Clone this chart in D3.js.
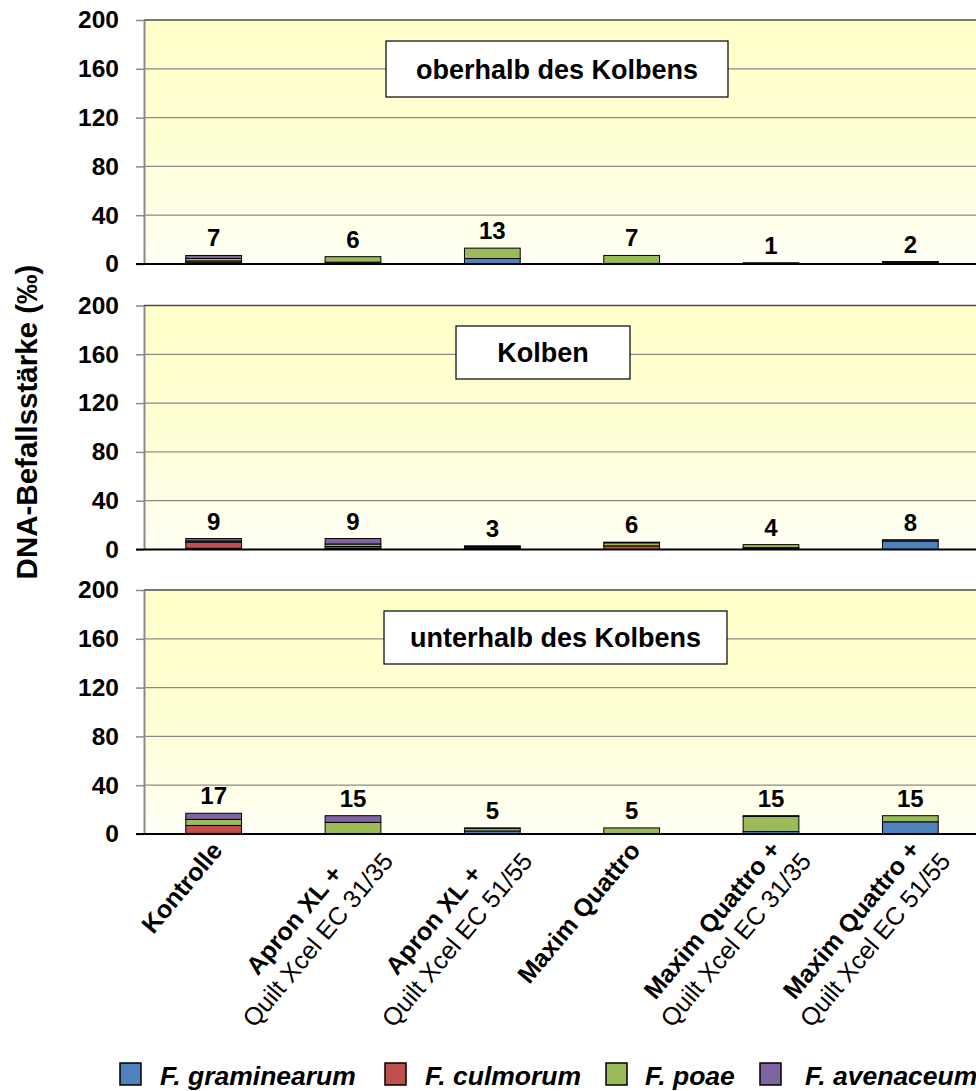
<!DOCTYPE html>
<html>
<head>
<meta charset="utf-8">
<script src="https://cdn.jsdelivr.net/npm/d3@7"></script>
<style>
  html, body { margin: 0; padding: 0; background: #ffffff; }
  svg { display: block; font-family: "Liberation Sans", Arial, sans-serif; }
</style>
</head>
<body>
<svg id="chart" width="976" height="1091"></svg>
<script>
// ---------------- DATA ----------------
const categories = ["Kontrolle", "Apron XL + 31/35", "Apron XL + 51/55", "Maxim Quattro", "Maxim Quattro + 31/35", "Maxim Quattro + 51/55"];
const labelLine1 = ["Kontrolle", "Apron XL +", "Apron XL +", "Maxim Quattro", "Maxim Quattro +", "Maxim Quattro +"];
const labelLine2 = ["", "Quilt Xcel EC 31/35", "Quilt Xcel EC 51/55", "", "Quilt Xcel EC 31/35", "Quilt Xcel EC 51/55"];
const panelTitles = ["oberhalb des Kolbens", "Kolben", "unterhalb des Kolbens"];
const speciesNames = ["F. graminearum", "F. culmorum", "F. poae", "F. avenaceum"];
const speciesColors = ["#4F81BD", "#C0504D", "#9BBB59", "#8064A2"];
const yTicks = [0, 40, 80, 120, 160, 200];

// oberhalb des Kolbens
const graminearumOber = [1, 0.5, 4.5, 0, 0.3, 1];
const culmorumOber    = [1.5, 1, 0, 0.5, 0.2, 0.5];
const poaeOber        = [2, 4.5, 8.5, 6.5, 0.5, 0.5];
const avenaceumOber   = [2.5, 0, 0, 0, 0, 0];
const totalsOber      = [7, 6, 13, 7, 1, 2];

// Kolben
const graminearumKolben = [1, 1, 1, 0, 0.5, 7];
const culmorumKolben    = [5, 1.5, 1, 3, 1, 0];
const poaeKolben        = [1, 2, 0.5, 2.5, 2.5, 0];
const avenaceumKolben   = [2, 4.5, 0.5, 0.5, 0, 1];
const totalsKolben      = [9, 9, 3, 6, 4, 8];

// unterhalb des Kolbens
const graminearumUnter = [0.5, 0, 2.5, 0, 2, 10];
const culmorumUnter    = [6.5, 0, 0, 0, 0, 0];
const poaeUnter        = [5, 9.5, 2, 5, 12.5, 5];
const avenaceumUnter   = [5, 5.5, 0.5, 0, 0.5, 0];
const totalsUnter      = [17, 15, 5, 5, 15, 15];

const panelSeries = [
  [graminearumOber, culmorumOber, poaeOber, avenaceumOber],
  [graminearumKolben, culmorumKolben, poaeKolben, avenaceumKolben],
  [graminearumUnter, culmorumUnter, poaeUnter, avenaceumUnter]
];
const panelTotals = [totalsOber, totalsKolben, totalsUnter];

// ---------------- LAYOUT ----------------
const svg = d3.select("#chart");
const plotLeft = 144, plotRight = 980;
const panelTop = [20, 305.5, 590];
const panelH = 244;
const titleBoxes = [
  {x: 386, y: 41, w: 342, h: 56},
  {x: 456, y: 326, w: 174, h: 53},
  {x: 384, y: 611, w: 343, h: 53}
];

const x = d3.scaleBand().domain(categories).range([plotLeft, plotRight]).paddingInner(0.6).paddingOuter(0.3);

const defs = svg.append("defs");
const grad = defs.append("linearGradient").attr("id", "bg").attr("x1", 0).attr("y1", 0).attr("x2", 0).attr("y2", 1);
grad.append("stop").attr("offset", "0%").attr("stop-color", "#FFFFCA");
grad.append("stop").attr("offset", "55%").attr("stop-color", "#FFFFD6");
grad.append("stop").attr("offset", "100%").attr("stop-color", "#FFFFF6");

panelSeries.forEach((series, p) => {
  const top = panelTop[p], bottom = top + panelH;
  const y = d3.scaleLinear().domain([0, 200]).range([bottom, top]);
  const g = svg.append("g");

  g.append("rect").attr("x", plotLeft).attr("y", top).attr("width", plotRight - plotLeft).attr("height", panelH)
    .attr("fill", "url(#bg)");

  // gridlines
  g.selectAll("line.grid").data(yTicks.filter(t => t > 0)).enter().append("line")
    .attr("x1", plotLeft).attr("x2", plotRight)
    .attr("y1", d => y(d)).attr("y2", d => y(d))
    .attr("stroke", d => d === 200 ? "#4a4a4a" : "#8a8a8a").attr("stroke-width", d => d === 200 ? 1.6 : 1.2);

  // y axis
  const ax = g.append("g").attr("transform", `translate(${plotLeft},0)`)
    .call(d3.axisLeft(y).tickValues(yTicks).tickSize(8).tickPadding(17).tickSizeOuter(0));
  ax.select(".domain").attr("stroke", "#8a8a8a").attr("stroke-width", 2);
  ax.selectAll(".tick line").attr("stroke", "#8a8a8a").attr("stroke-width", 1.5);
  ax.selectAll(".tick text").attr("font-size", 24.5).attr("font-weight", "bold").attr("fill", "#000")
    .attr("font-family", "'Liberation Sans', Arial, sans-serif");

  // stacked bars
  const rows = categories.map((c, i) => {
    const r = {cat: c};
    speciesNames.forEach((s, k) => r[s] = series[k][i]);
    return r;
  });
  const stacked = d3.stack().keys(speciesNames)(rows);
  stacked.forEach((layer, k) => {
    g.selectAll(null).data(layer).enter().append("rect")
      .attr("x", d => x(d.data.cat))
      .attr("width", x.bandwidth())
      .attr("y", d => y(d[1]))
      .attr("height", d => Math.max(0, y(d[0]) - y(d[1])))
      .attr("fill", speciesColors[k])
      .attr("stroke", d => (d[1] - d[0]) > 0 ? "#000" : "none")
      .attr("stroke-width", 1);
  });

  // bottom axis line
  g.append("line").attr("x1", plotLeft - 8).attr("x2", plotRight).attr("y1", bottom).attr("y2", bottom)
    .attr("stroke", "#000").attr("stroke-width", 2);

  // value labels
  g.selectAll("text.val").data(panelTotals[p]).enter().append("text")
    .attr("x", (d, i) => x(categories[i]) + x.bandwidth() / 2)
    .attr("y", (d, i) => y(d3.sum(series, s => s[i])) - 9)
    .attr("text-anchor", "middle").attr("font-size", 24).attr("font-weight", "bold")
    .text(d => d);

  // title box
  const tb = titleBoxes[p];
  g.append("rect").attr("x", tb.x).attr("y", tb.y).attr("width", tb.w).attr("height", tb.h)
    .attr("fill", "#fff").attr("stroke", "#000").attr("stroke-width", 1.2);
  g.append("text").attr("x", tb.x + tb.w / 2).attr("y", tb.y + tb.h / 2 + 9.5)
    .attr("text-anchor", "middle").attr("font-size", 27).attr("font-weight", "bold")
    .text(panelTitles[p]);
});

// x labels
const axisY = panelTop[2] + panelH;
categories.forEach((c, i) => {
  const cx = x(c) + x.bandwidth() / 2;
  const g = svg.append("g").attr("transform", `translate(${cx + 10},${axisY + 17}) rotate(-50)`);
  const t1 = g.append("text").attr("font-size", 25).attr("font-weight", "bold").text(labelLine1[i]);
  if (!labelLine2[i]) {
    t1.attr("text-anchor", "end").attr("x", 0).attr("y", 0);
  } else {
    const t2 = g.append("text").attr("font-size", 25).text(labelLine2[i]);
    const w = Math.max(t1.node().getComputedTextLength(), t2.node().getComputedTextLength());
    t1.attr("text-anchor", "middle").attr("x", -w / 2 + 12).attr("y", 0);
    t2.attr("text-anchor", "middle").attr("x", -w / 2 + 12).attr("y", 31);
  }
});

// y title
svg.append("text").attr("transform", "translate(37,422) rotate(-90)")
  .attr("text-anchor", "middle").attr("font-size", 29.5).attr("font-weight", "bold")
  .text("DNA-Befallsstärke (‰)");

// legend
const legendX = [120, 385, 606, 760];
const legendTextX = [160, 425, 645, 805];
const lg = svg.append("g");
speciesNames.forEach((s, k) => {
  lg.append("rect").attr("x", legendX[k]).attr("y", 1063).attr("width", 21).attr("height", 22)
    .attr("fill", speciesColors[k]).attr("stroke", "#000").attr("stroke-width", 1.5);
  lg.append("text").attr("x", legendTextX[k]).attr("y", 1085)
    .attr("font-size", 26.5).attr("font-weight", "bold").attr("font-style", "italic").text(s);
});
</script>
</body>
</html>
